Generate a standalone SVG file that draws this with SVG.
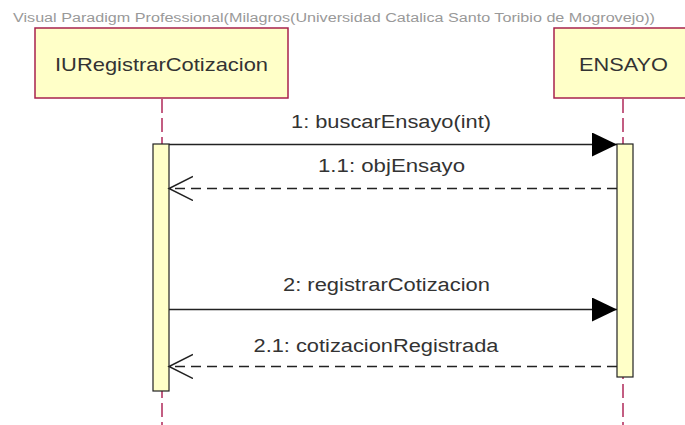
<svg xmlns="http://www.w3.org/2000/svg" width="685" height="425" viewBox="0 0 685 425">
<defs>
<style>
.lbl{font-family:"Liberation Sans",Arial,sans-serif;fill:#333;}
.box{fill:#ffffc8;stroke:#a8224c;stroke-width:1.5;}
.life{stroke:#b0285a;stroke-width:1.5;stroke-dasharray:14,5;fill:none;}
.act{fill:#ffffc8;stroke:#222;stroke-width:1.2;}
.msg{stroke:#222;stroke-width:1.5;fill:none;}
.ret{stroke:#222;stroke-width:1.5;fill:none;stroke-dasharray:10,6;}
</style>
<marker id="filled" markerWidth="26" markerHeight="26" refX="25" refY="12" orient="auto" markerUnits="userSpaceOnUse">
<path d="M0,0 L25,12 L0,24 Z" fill="#000"/>
</marker>
<marker id="open" markerWidth="26" markerHeight="26" refX="24" refY="12" orient="auto" markerUnits="userSpaceOnUse">
<path d="M0,0 L24,12 L0,24" fill="none" stroke="#222" stroke-width="1.5"/>
</marker>
</defs>
<rect width="685" height="425" fill="#fff"/>
<text x="13" y="22" class="lbl" font-size="12" fill="#999" style="fill:#999" textLength="642" lengthAdjust="spacingAndGlyphs">Visual Paradigm Professional(Milagros(Universidad Catalica Santo Toribio de Mogrovejo))</text>

<g id="IURegistrarCotizacion">
<line x1="162" y1="99" x2="162" y2="425" class="life"/>
<rect x="35" y="28" width="253" height="70" class="box"/>
<text x="161.5" y="71" class="lbl" font-size="19" text-anchor="middle" textLength="213" lengthAdjust="spacingAndGlyphs">IURegistrarCotizacion</text>
<rect x="153" y="144" width="16" height="247" class="act"/>
</g>

<g id="ENSAYO">
<line x1="623" y1="99" x2="623" y2="425" class="life"/>
<rect x="554" y="28" width="140" height="70" class="box"/>
<text x="623.5" y="71" class="lbl" font-size="19" text-anchor="middle" textLength="89" lengthAdjust="spacingAndGlyphs">ENSAYO</text>
<rect x="617" y="144" width="16" height="233" class="act"/>
</g>

<g id="connectors">
<line x1="169" y1="144.5" x2="617" y2="144.5" class="msg" marker-end="url(#filled)"/>
<text x="391" y="128" class="lbl" font-size="18" text-anchor="middle" textLength="200" lengthAdjust="spacingAndGlyphs">1: buscarEnsayo(int)</text>
<line x1="617" y1="188.5" x2="169" y2="188.5" class="ret" marker-end="url(#open)"/>
<text x="391.5" y="172" class="lbl" font-size="18" text-anchor="middle" textLength="147" lengthAdjust="spacingAndGlyphs">1.1: objEnsayo</text>
<line x1="169" y1="309.5" x2="617" y2="309.5" class="msg" marker-end="url(#filled)"/>
<text x="386.5" y="291" class="lbl" font-size="18" text-anchor="middle" textLength="207" lengthAdjust="spacingAndGlyphs">2: registrarCotizacion</text>
<line x1="617" y1="366.5" x2="169" y2="366.5" class="ret" marker-end="url(#open)"/>
<text x="376" y="352" class="lbl" font-size="18" text-anchor="middle" textLength="245" lengthAdjust="spacingAndGlyphs">2.1: cotizacionRegistrada</text>
</g>
</svg>
